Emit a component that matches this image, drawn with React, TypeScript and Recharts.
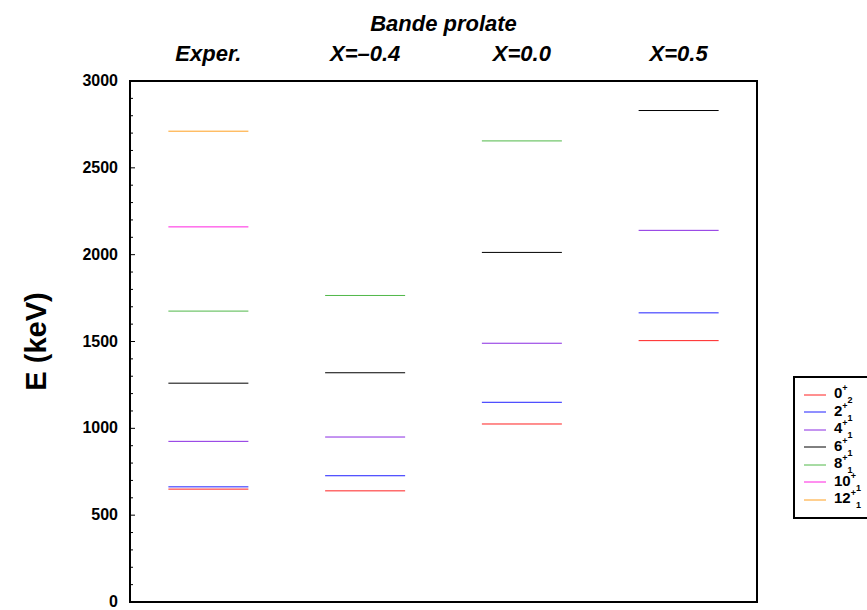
import React from "react";
import {
  ScatterChart,
  Scatter,
  XAxis,
  YAxis,
  ReferenceArea,
  Legend,
} from "recharts";

// colonnes (calculs et expérience)
const columns = ["Exper.", "X=–0.4", "X=0.0", "X=0.5"];

// énergies des niveaux (keV), une valeur par colonne
const level0p2 = [650, 640, 1025, 1505];
const level2p1 = [663, 727, 1150, 1665];
const level4p1 = [925, 950, 1490, 2140];
const level6p1 = [1260, 1320, 2013, 2830];
const level8p1 = [1675, 1765, 2655, null];
const level10p1 = [2160, null, null, null];
const level12p1 = [2711, null, null, null];

const minorTicks = Array.from({ length: 31 }, (_, i) => i * 100);

const levels = [
  { spin: "0", sub: "2", values: level0p2, color: "#ff2020" },
  { spin: "2", sub: "1", values: level2p1, color: "#2020ff" },
  { spin: "4", sub: "1", values: level4p1, color: "#8a2be2" },
  { spin: "6", sub: "1", values: level6p1, color: "#000000" },
  { spin: "8", sub: "1", values: level8p1, color: "#50b848" },
  { spin: "10", sub: "1", values: level10p1, color: "#ff20e0" },
  { spin: "12", sub: "1", values: level12p1, color: "#ffa020" },
];

const FONT = "'Liberation Sans', Arial, sans-serif";
const HALF = 40; // demi-largeur d'un niveau, px

const LevelMark = (props: any) => {
  const { cx, cy, stroke } = props;
  if (cx == null || cy == null) return null;
  return <line x1={cx - HALF} x2={cx + HALF} y1={cy} y2={cy} stroke={stroke} strokeWidth={1} />;
};

const LeftTick = (props: any) => {
  const { x, y, payload } = props;
  const axisX = x + 12;
  const major = payload.value % 500 === 0;
  return (
    <g>
      <line x1={axisX} x2={axisX + (major ? 5 : 3)} y1={y} y2={y} stroke="#000" />
      {major && (
        <text x={x} y={y} dy={5} textAnchor="end" fontFamily={FONT} fontWeight="bold" fontSize={16} fill="#000">
          {payload.value}
        </text>
      )}
    </g>
  );
};

const RightTick = (props: any) => {
  const { x, y, payload } = props;
  const major = payload.value % 500 === 0;
  return <line x1={x - (major ? 5 : 3)} x2={x} y1={y} y2={y} stroke="#000" />;
};

const ColumnTick = (props: any) => {
  const { x, y, payload } = props;
  return (
    <text x={x} y={y - 20} textAnchor="middle" fontFamily={FONT} fontWeight="bold" fontStyle="italic" fontSize={22} fill="#000">
      {columns[payload.value - 1]}
    </text>
  );
};

const TitleLabel = (props: any) => {
  const { viewBox } = props;
  return (
    <text x={viewBox.x + viewBox.width / 2} y={viewBox.y - 20} textAnchor="middle" fontFamily={FONT} fontWeight="bold" fontStyle="italic" fontSize={22} fill="#000">
      Bande prolate
    </text>
  );
};

const YLabel = (props: any) => {
  const { viewBox } = props;
  const x = viewBox.x + 46;
  const y = viewBox.y + viewBox.height / 2;
  return (
    <text x={x} y={y} transform={`rotate(-90 ${x} ${y})`} textAnchor="middle" fontFamily={FONT} fontWeight="bold" fontSize={29} fill="#000">
      E (keV)
    </text>
  );
};

const LegendBox = () => (
  <div
    style={{
      border: "2px solid #000",
      background: "#fff",
      padding: "8px 0 8px 8px",
      fontFamily: FONT,
      fontWeight: "bold",
      fontSize: 15,
      boxSizing: "border-box",
      width: 110,
    }}
  >
    {levels.map((l) => (
      <div key={l.spin} style={{ display: "flex", alignItems: "center", height: 17.5 }}>
        <svg width={31} height={10}>
          <line x1={1} x2={23} y1={5} y2={5} stroke={l.color} strokeWidth={1} />
        </svg>
        <span style={{ lineHeight: "15px", whiteSpace: "nowrap" }}>
          {l.spin}
          <sup style={{ fontSize: 9, verticalAlign: 7 }}>+</sup>
          <sub style={{ fontSize: 9, verticalAlign: -5 }}>{l.sub}</sub>
        </span>
      </div>
    ))}
  </div>
);

export default function App() {
  return (
    <div style={{ position: "absolute", left: 0, top: 0, width: 867, height: 610, overflow: "hidden", background: "#fff" }}>
      <ScatterChart width={867} height={610} margin={{ top: 51, right: 110, bottom: 8, left: 0 }}>
        <XAxis
          dataKey="x"
          type="number"
          orientation="top"
          domain={[0.5, 4.5]}
          ticks={[1, 2, 3, 4]}
          axisLine={false}
          tickLine={false}
          tickSize={0}
          tickMargin={0}
          height={30}
          tick={<ColumnTick />}
          label={<TitleLabel />}
          allowDataOverflow
        />
        <YAxis
          yAxisId="left"
          dataKey="y"
          type="number"
          domain={[0, 3000]}
          ticks={minorTicks}
          interval={0}
          width={130}
          axisLine={false}
          tickLine={false}
          tickSize={0}
          tickMargin={12}
          tick={<LeftTick />}
          label={<YLabel />}
          allowDataOverflow
        />
        <YAxis
          yAxisId="right"
          orientation="right"
          type="number"
          domain={[0, 3000]}
          ticks={minorTicks}
          interval={0}
          width={0}
          axisLine={false}
          tickLine={false}
          tickSize={0}
          tickMargin={0}
          tick={<RightTick />}
          allowDataOverflow
        />
        <ReferenceArea
          yAxisId="left"
          x1={0.5}
          x2={4.5}
          y1={0}
          y2={3000}
          fill="none"
          fillOpacity={0}
          stroke="#000"
          strokeWidth={2}
          ifOverflow="visible"
        />
        {levels.map((l) => (
          <Scatter
            key={l.spin}
            yAxisId="left"
            name={`${l.spin}+${l.sub}`}
            data={l.values
              .map((v, i) => ({ x: i + 1, y: v }))
              .filter((d) => d.y != null)}
            stroke={l.color}
            fill={l.color}
            shape={<LevelMark />}
            isAnimationActive={false}
          />
        ))}
        <Scatter yAxisId="right" data={[]} isAnimationActive={false} />
        <Legend
          layout="vertical"
          align="center"
          verticalAlign="middle"
          content={<LegendBox />}
          wrapperStyle={{ left: 793, top: 376, width: 110 }}
        />
      </ScatterChart>
    </div>
  );
}
